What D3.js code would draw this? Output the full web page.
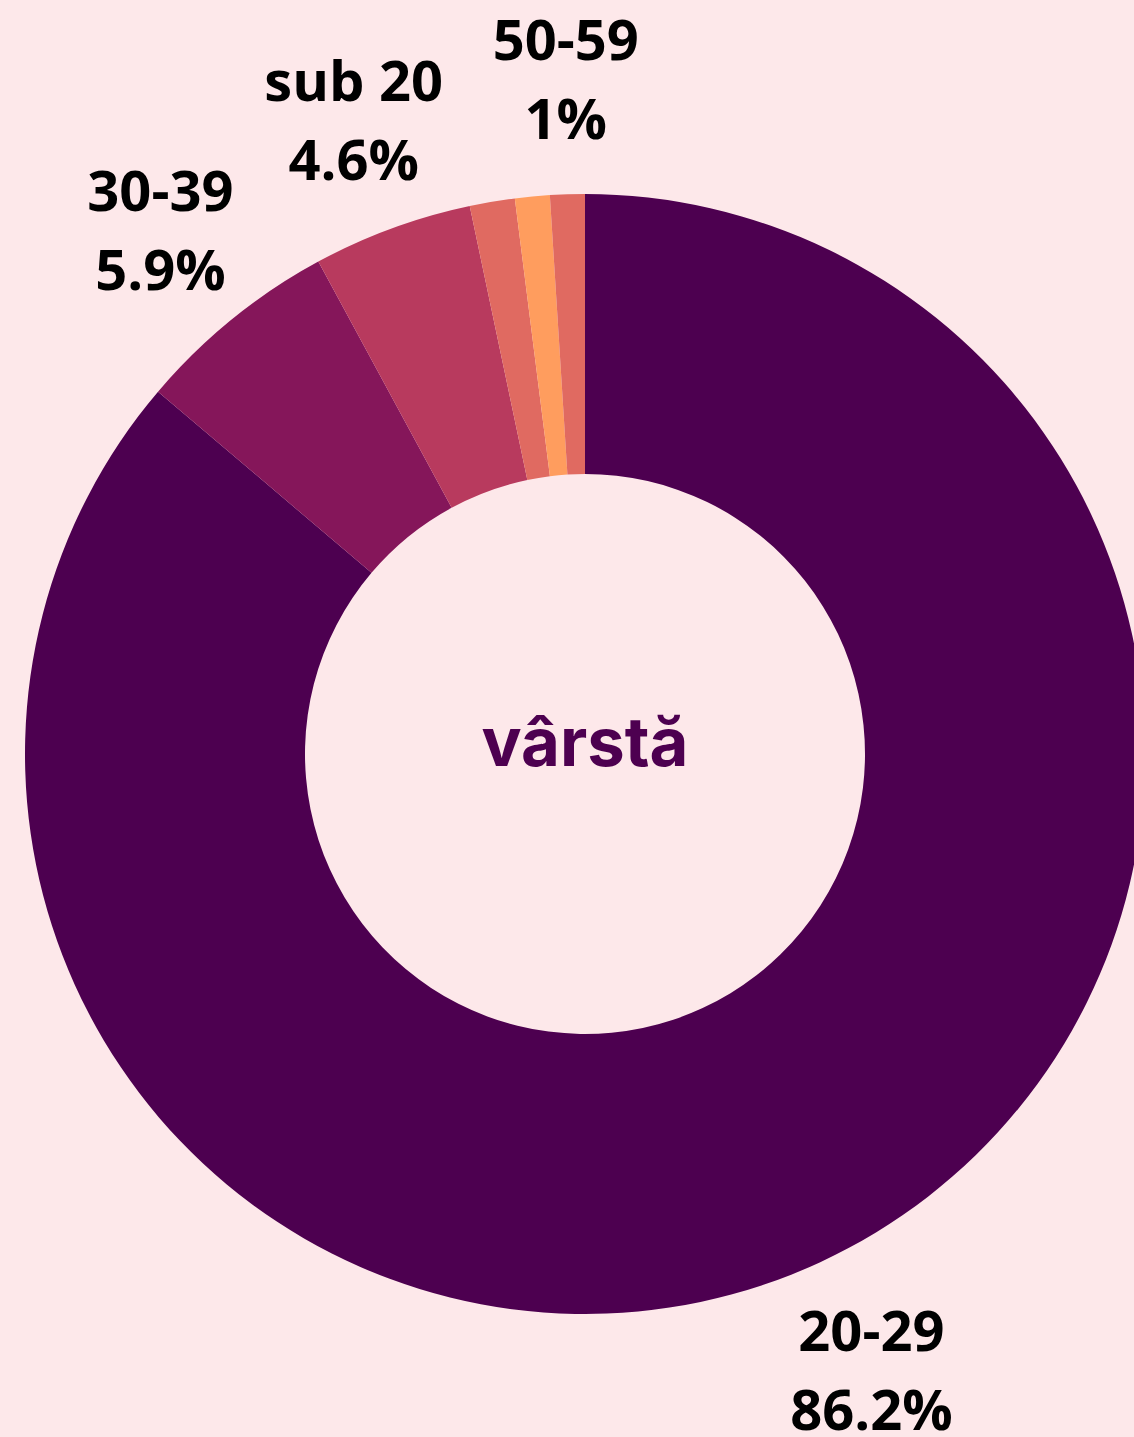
<!DOCTYPE html>
<html>
<head>
<meta charset="utf-8">
<style>
	body { margin: 0; background: #fde8ea; }
	svg { display: block; }
	.label { font-family: "Open Sans", sans-serif; font-weight: 700; font-size: 56px; fill: #000; text-anchor: middle; }
	.center { font-family: Inter, sans-serif; font-weight: 700; font-size: 67px; fill: #4d0050; text-anchor: middle; }
</style>
</head>
<body>

<script src="https://cdn.jsdelivr.net/npm/d3@7"></script>

<script>

// Data
var categories = ["20-29", "30-39", "sub 20", "40-49", "peste 60", "50-59"];
var percents = [86.2, 5.9, 4.6, 1.3, 1.0, 1.0];
var colors = ["#4d0050", "#85165a", "#b83a5e", "#e06a61", "#ff9d5e", "#e06a61"];
var shownLabels = ["20-29", "30-39", "sub 20", "50-59"];
var centerTitle = "vârstă";

// Dimensions
var width = 1134, height = 1437;
var cx = 585, cy = 754;
var outerR = 560, innerR = 280, labelR = 677;

var data = categories.map(function(c, i) {
	return {name: c, value: percents[i]};
});

var color = d3.scaleOrdinal().domain(categories).range(colors);

var svg = d3.select("body").append("svg")
		.attr("width", width)
		.attr("height", height)
	.append("g")
		.attr("transform", "translate(" + cx + "," + cy + ")");

var pie = d3.pie()
	.sort(null)
	.value(function(d) { return d.value; });

var arc = d3.arc().innerRadius(innerR).outerRadius(outerR);
var labelArc = d3.arc().innerRadius(labelR).outerRadius(labelR);

var arcs = pie(data);

// Slices
svg.selectAll("path")
	.data(arcs)
	.enter().append("path")
		.attr("d", arc)
		.attr("fill", function(d) { return color(d.data.name); });

// Labels
var labels = svg.selectAll(".lbl")
	.data(arcs.filter(function(d) { return shownLabels.indexOf(d.data.name) >= 0; }))
	.enter().append("g")
		.attr("class", "lbl")
		.attr("transform", function(d) { return "translate(" + labelArc.centroid(d) + ")"; });

labels.append("text")
	.attr("class", "label")
	.attr("x", 2)
	.attr("y", -17)
	.text(function(d) { return d.data.name; });

labels.append("text")
	.attr("class", "label")
	.attr("x", 2)
	.attr("y", 62)
	.text(function(d) { return d.data.value + "%"; });

// Center title
svg.append("text")
	.attr("class", "center")
	.attr("y", 12)
	.text(centerTitle);

</script>

</body>
</html>
